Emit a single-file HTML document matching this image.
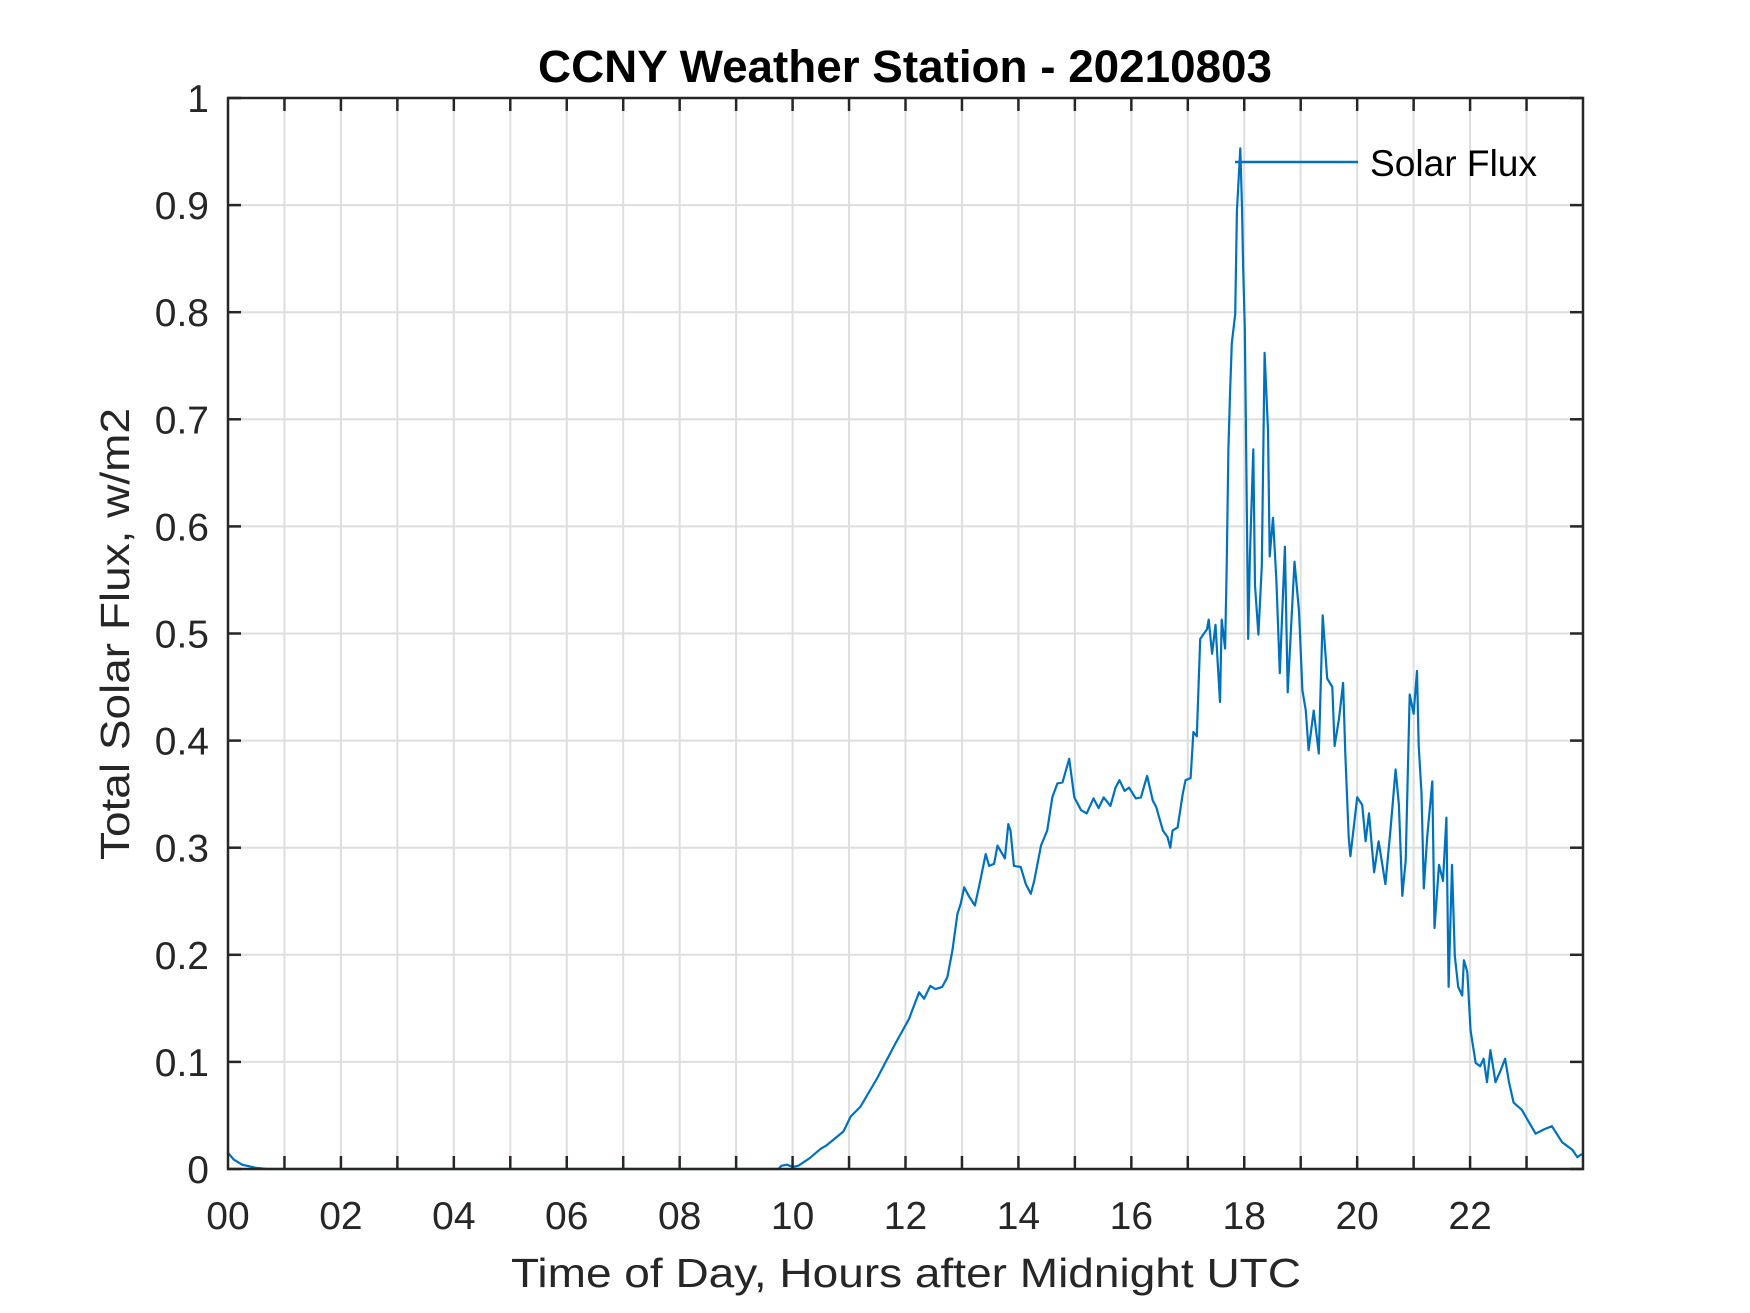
<!DOCTYPE html>
<html>
<head>
<meta charset="utf-8">
<style>
  html,body{margin:0;padding:0;background:#fff;}
  svg{display:block;}
  text{font-family:"Liberation Sans",Arial,sans-serif;}
</style>
</head>
<body>
<svg id="chart" width="1750" height="1313" viewBox="0 0 1750 1313" xmlns="http://www.w3.org/2000/svg">
  <rect x="0" y="0" width="1750" height="1313" fill="#fff"/>
  <g id="grid"></g>
  <g id="series"></g>
  <g id="axes"></g>
  <text x="905" y="82" text-anchor="middle" font-size="45" font-weight="bold" fill="#000" textLength="734" lengthAdjust="spacingAndGlyphs">CCNY Weather Station - 20210803</text>
  <text x="906" y="1287" text-anchor="middle" font-size="41" fill="#262626" textLength="790" lengthAdjust="spacingAndGlyphs">Time of Day, Hours after Midnight UTC</text>
  <text x="0" y="0" transform="translate(129,634) rotate(-90)" text-anchor="middle" font-size="41" fill="#262626" textLength="452" lengthAdjust="spacingAndGlyphs">Total Solar Flux, w/m2</text>
  <g>
    <line x1="1235" y1="162" x2="1358" y2="162" stroke="#0072BD" stroke-width="2.5"/>
    <text x="1370" y="176" font-size="37" fill="#000" textLength="167" lengthAdjust="spacingAndGlyphs">Solar Flux</text>
  </g>
</svg>
<script>
const hours = [0,0.1,0.25,0.5,0.7,9.75,9.8,9.9,10.0,10.1,10.3,10.5,10.6,10.9,11.03,11.2,11.5,11.8,12.06,12.24,12.33,12.44,12.53,12.65,12.74,12.83,12.92,12.98,13.04,13.12,13.23,13.3,13.42,13.48,13.57,13.63,13.76,13.82,13.86,13.92,14.04,14.13,14.22,14.28,14.4,14.51,14.6,14.69,14.78,14.9,14.99,15.11,15.21,15.33,15.42,15.51,15.63,15.72,15.79,15.88,15.96,16.08,16.17,16.28,16.38,16.44,16.56,16.64,16.69,16.73,16.82,16.91,16.96,17.05,17.1,17.16,17.22,17.34,17.37,17.43,17.49,17.57,17.6,17.66,17.69,17.72,17.75,17.78,17.84,17.87,17.93,17.96,17.98,18.01,18.04,18.07,18.1,18.16,18.19,18.25,18.31,18.36,18.42,18.45,18.51,18.57,18.63,18.72,18.77,18.89,18.97,19.03,19.09,19.14,19.23,19.32,19.39,19.47,19.56,19.6,19.68,19.75,19.79,19.85,19.88,20.0,20.09,20.15,20.21,20.3,20.38,20.5,20.59,20.68,20.74,20.8,20.86,20.93,21.0,21.06,21.09,21.14,21.18,21.24,21.33,21.37,21.45,21.52,21.58,21.62,21.68,21.73,21.79,21.86,21.89,21.95,22.01,22.1,22.18,22.24,22.3,22.36,22.45,22.54,22.62,22.69,22.77,22.92,23.04,23.16,23.31,23.45,23.63,23.81,23.9,23.98];
const flux = [0.015,0.009,0.004,0.001,0,0,0.003,0.004,0.002,0.003,0.01,0.019,0.022,0.035,0.049,0.058,0.085,0.115,0.14,0.165,0.159,0.171,0.168,0.17,0.179,0.204,0.238,0.248,0.263,0.255,0.246,0.263,0.294,0.283,0.285,0.302,0.29,0.322,0.316,0.283,0.282,0.266,0.257,0.269,0.302,0.316,0.347,0.36,0.361,0.383,0.347,0.335,0.332,0.346,0.337,0.347,0.339,0.356,0.363,0.353,0.356,0.346,0.347,0.367,0.344,0.338,0.316,0.31,0.3,0.316,0.319,0.35,0.363,0.365,0.408,0.404,0.495,0.504,0.513,0.481,0.508,0.436,0.513,0.486,0.563,0.672,0.726,0.771,0.798,0.894,0.953,0.898,0.844,0.785,0.644,0.495,0.572,0.672,0.545,0.499,0.563,0.762,0.69,0.572,0.608,0.549,0.463,0.581,0.445,0.567,0.521,0.447,0.428,0.391,0.428,0.388,0.517,0.458,0.45,0.395,0.421,0.454,0.388,0.31,0.292,0.347,0.34,0.306,0.332,0.277,0.306,0.266,0.317,0.373,0.34,0.255,0.288,0.443,0.425,0.465,0.395,0.351,0.262,0.31,0.362,0.225,0.284,0.269,0.328,0.17,0.284,0.199,0.17,0.162,0.195,0.184,0.129,0.099,0.096,0.103,0.081,0.111,0.081,0.092,0.103,0.081,0.062,0.055,0.044,0.033,0.037,0.04,0.025,0.018,0.011,0.014];
const xTickLabels = ["00","02","04","06","08","10","12","14","16","18","20","22"];
const yTickLabels = ["0","0.1","0.2","0.3","0.4","0.5","0.6","0.7","0.8","0.9","1"];

const NS = "http://www.w3.org/2000/svg";
const L = 228, R = 1583, T = 98, B = 1169;
const xMin = 0, xMax = 24, yMin = 0, yMax = 1;
function xs(h){ return L + (h - xMin) / (xMax - xMin) * (R - L); }
function ys(v){ return B - (v - yMin) / (yMax - yMin) * (B - T); }
function mk(tag, attrs, parent){
  const el = document.createElementNS(NS, tag);
  for (const k in attrs) el.setAttribute(k, attrs[k]);
  parent.appendChild(el);
  return el;
}
const grid = document.getElementById('grid');
const axes = document.getElementById('axes');
const series = document.getElementById('series');

// vertical grid + ticks every hour
for (let h = 1; h < 24; h++) {
  const x = xs(h);
  const g = mk('line', {x1:x, y1:T, x2:x, y2:B, stroke:'#dedede', 'stroke-width':2}, grid);
  
  
  const t1 = mk('line', {x1:x, y1:B, x2:x, y2:B-13, stroke:'#262626', 'stroke-width':2.5}, axes);
  
  
  const t2 = mk('line', {x1:x, y1:T, x2:x, y2:T+13, stroke:'#262626', 'stroke-width':2.5}, axes);
  
  
}
xTickLabels.forEach(function(lab, i){
  const t = mk('text', {x:xs(i*2), y:1229, 'text-anchor':'middle', 'font-size':39, fill:'#262626'}, axes);
  t.textContent = lab;
  
  
});
yTickLabels.forEach(function(lab, i){
  const v = parseFloat(lab);
  const y = ys(v);
  if (i > 0 && i < yTickLabels.length - 1) {
    const g = mk('line', {x1:L, y1:y, x2:R, y2:y, stroke:'#dedede', 'stroke-width':2}, grid);
    
    
  }
  const t1 = mk('line', {x1:L, y1:y, x2:L+13, y2:y, stroke:'#262626', 'stroke-width':2.5}, axes);
  
  
  const t2 = mk('line', {x1:R, y1:y, x2:R-13, y2:y, stroke:'#262626', 'stroke-width':2.5}, axes);
  
  
  const t = mk('text', {x:209, y:y+14, 'text-anchor':'end', 'font-size':39, fill:'#262626'}, axes);
  t.textContent = lab;
  
  
});
const box = mk('rect', {x:L, y:T, width:R-L, height:B-T, fill:'none', stroke:'#262626', 'stroke-width':2.5}, axes);



let d = '';
hours.forEach(function(h, i){
  d += (i ? 'L' : 'M') + xs(h).toFixed(1) + ' ' + ys(flux[i]).toFixed(1) + ' ';
});
const line = mk('path', {d:d, fill:'none', stroke:'#0072BD', 'stroke-width':2.2, 'stroke-linejoin':'round'}, series);


</script>
</body>
</html>
